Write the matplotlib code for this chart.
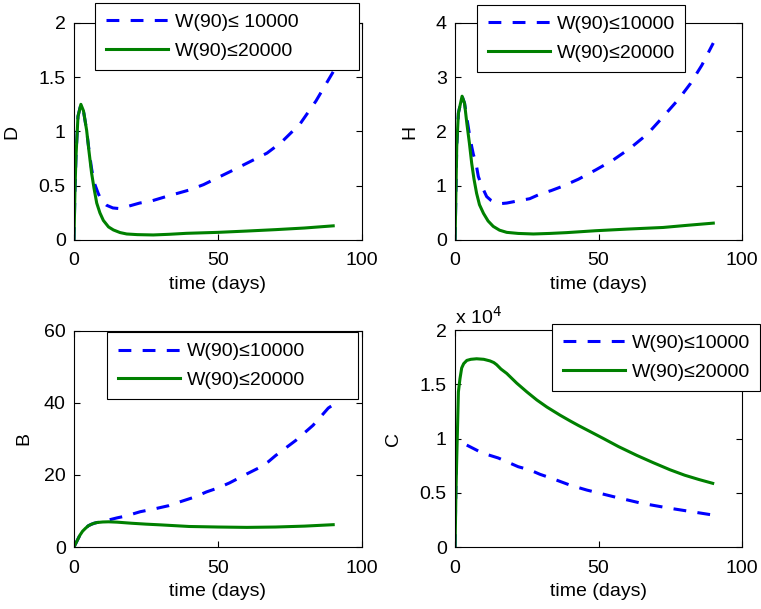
import matplotlib
matplotlib.use('Agg')
import matplotlib.pyplot as plt
from matplotlib.ticker import FuncFormatter

plt.rcParams['font.family'] = ['Liberation Sans', 'DejaVu Sans']
plt.rcParams['font.size'] = 14

# D panel
t_D_green = [0, 0.35, 0.7, 1.4, 2.4, 3.3, 4.4, 5.2, 6.1, 7.0, 7.9, 9.0, 10.2, 12.0,
             13.7, 16, 18.3, 22, 27.5, 33, 39, 50, 60, 70, 80, 90]
D_green = [0, 0.46, 0.77, 1.14, 1.25, 1.19, 1.01, 0.82, 0.62, 0.47, 0.34, 0.25, 0.18,
           0.12, 0.092, 0.068, 0.055, 0.049, 0.046, 0.052, 0.061, 0.07, 0.082, 0.095,
           0.11, 0.13]
t_D_blue = [0, 0.35, 0.7, 1.4, 2.4, 3.3, 4.4, 5.2, 6.1, 7.0, 8.4, 9.6, 11.3, 13.5, 15.4,
            18.8, 22.8, 27, 32, 36, 40, 45, 49.6, 55, 61, 67, 72, 78.5, 84, 90]
D_blue = [0, 0.46, 0.77, 1.14, 1.25, 1.19, 1.01, 0.83, 0.66, 0.53, 0.43, 0.36, 0.32,
          0.295, 0.29, 0.31, 0.34, 0.36, 0.40, 0.43, 0.46, 0.51, 0.57, 0.64, 0.72, 0.80,
          0.90, 1.07, 1.28, 1.55]

# H panel
t_H_green = [0, 0.58, 1.16, 2.44, 3.3, 4.1, 5.0, 5.8, 6.6, 7.5, 8.5, 9.9, 11.5, 13.3,
             15.5, 18, 22, 27.3, 33, 38.9, 49, 60, 72.5, 81, 90]
H_green = [0, 1.72, 2.34, 2.65, 2.52, 2.15, 1.78, 1.41, 1.12, 0.86, 0.65, 0.49, 0.35,
           0.25, 0.18, 0.14, 0.12, 0.11, 0.12, 0.135, 0.17, 0.20, 0.23, 0.27, 0.31]
t_H_blue = [0, 0.58, 1.16, 2.44, 3.3, 4.1, 5.0, 5.8, 6.4, 6.9, 7.5, 8.1, 9.5, 11, 12.5, 14,
            16, 18, 21.9, 26, 29.4, 33.5, 37.5, 43, 49, 55, 61, 67, 72.5, 78, 82, 86, 90]
H_blue = [0, 1.72, 2.34, 2.65, 2.52, 2.25, 1.95, 1.72, 1.57, 1.49, 1.35, 1.17, 0.97, 0.80,
          0.73, 0.69, 0.67, 0.68, 0.72, 0.76, 0.84, 0.91, 0.99, 1.12, 1.29, 1.47, 1.69,
          1.95, 2.27, 2.60, 2.88, 3.22, 3.63]

# B panel
t_B_green = [0, 1, 2, 3, 4, 5, 6, 7, 8, 10, 12, 15, 20, 25, 30, 40, 50, 60, 70, 80, 90]
B_green = [0, 1.6, 3.2, 4.4, 5.2, 5.9, 6.3, 6.6, 6.8, 6.95, 7.0, 6.9, 6.6, 6.35, 6.15,
           5.7, 5.55, 5.45, 5.55, 5.8, 6.2]
t_B_blue = [0, 1, 2, 3, 4, 5, 6, 7, 8, 10, 12, 15, 18, 23, 28, 33, 37, 42, 46, 50, 54, 60,
            64, 67.5, 70, 77, 80, 83, 86, 88.3, 90]
B_blue = [0, 1.6, 3.2, 4.4, 5.2, 5.9, 6.3, 6.6, 6.8, 7.0, 7.5, 8.1, 8.6, 9.8, 10.6, 11.5,
          12.6, 13.9, 15.3, 16.4, 17.8, 20.3, 21.9, 23.7, 25.4, 29.6, 31.7, 33.8, 36.5,
          38.6, 39.5]

# C panel
t_C_green = [0, 0.3, 0.58, 0.9, 1.16, 1.7, 2.3, 3, 4.1, 5.5, 7.5, 10, 12.2, 13.5, 14.5, 16,
             18, 21.5, 25, 28.5, 32, 36.6, 40.1, 43, 47, 51.7, 57, 63.3, 69, 74.9, 80, 85,
             89.8]
C_green = [0, 5000, 8200, 11500, 14300, 15500, 16500, 16900, 17200, 17300, 17350, 17300,
           17150, 17000, 16800, 16400, 16000, 15100, 14300, 13550, 12900, 12150, 11620,
           11200, 10650, 10000, 9250, 8450, 7780, 7120, 6620, 6220, 5870]
t_C_blue = [0, 0.5, 2.9, 8.1, 11, 15.1, 22, 26.1, 29.6, 33.7, 40, 45.9, 55.2, 65, 74.9, 89.8]
C_blue = [0, 10000, 9550, 8850, 8540, 8200, 7400, 7100, 6700, 6330, 5710, 5250, 4640, 4030,
          3570, 2950]

label_blue = ['W(90)\u2264 10000', 'W(90)\u226410000', 'W(90)\u226410000', 'W(90)\u226410000']
label_green = 'W(90)\u226420000'

BLUE = (0, 0, 1)
GREEN = (0, 0.5, 0)

fig = plt.figure(figsize=(7.61, 6.09), dpi=100)

panels = [
    # rect, t_blue, y_blue, t_green, y_green, ylabel, ylim, yticks, ylabel x, legend bbox
    ([0.0972, 0.606, 0.3785, 0.3563], t_D_blue, D_blue, t_D_green, D_green, 'D',
     (0, 2), [0, 0.5, 1, 1.5, 2], -0.1875, (0.073, 0.70, 0.917, 0.392)),
    ([0.598, 0.606, 0.377, 0.3563], t_H_blue, H_blue, t_H_green, H_green, 'H',
     (0, 4), [0, 1, 2, 3, 4], -0.129, (0.077, 0.70, 0.725, 0.383)),
    ([0.0972, 0.1018, 0.3785, 0.3547], t_B_blue, B_blue, t_B_green, B_green, 'B',
     (0, 60), [0, 20, 40, 60], -0.146, (0.115, 0.60, 0.872, 0.395)),
    ([0.598, 0.1018, 0.377, 0.3563], t_C_blue, [c / 1e4 for c in C_blue], t_C_green,
     [c / 1e4 for c in C_green], 'C', (0, 2), [0, 0.5, 1, 1.5, 2], -0.185,
     (0.338, 0.60, 0.725, 0.428)),
]

fmt = FuncFormatter(lambda v, p: f'{v:g}')

for i, (rect, tb, yb, tg, yg, ylab, ylim, yticks, ylx, lbox) in enumerate(panels):
    ax = fig.add_axes(rect)
    ax.plot(tb, yb, color=BLUE, lw=2.2, linestyle=(0, (4.2, 3.7)), label=label_blue[i])
    ax.plot(tg, yg, color=GREEN, lw=2.2, label=label_green)
    ax.set_xlim(0, 100)
    ax.set_ylim(*ylim)
    ax.set_xticks([0, 50, 100])
    ax.set_yticks(yticks)
    ax.xaxis.set_major_formatter(fmt)
    ax.yaxis.set_major_formatter(fmt)
    ax.tick_params(direction='in', top=True, right=True, length=4, width=0.8,
                   labelsize=14)
    ax.tick_params(axis='x', pad=9)
    ax.tick_params(axis='y', pad=6)
    for s in ax.spines.values():
        s.set_linewidth(0.8)
    ax.set_xlabel('time (days)', fontsize=14)
    ax.xaxis.set_label_coords(0.5, -0.165)
    ax.xaxis.label.set_va('top')
    ax.set_ylabel(ylab, fontsize=14)
    ax.yaxis.set_label_coords(ylx, 0.5)
    leg = ax.legend(loc='upper left', bbox_to_anchor=lbox, mode='expand',
                    borderaxespad=0, fancybox=False, edgecolor='black', framealpha=1,
                    handlelength=3.2, handletextpad=0.35, borderpad=0.55,
                    labelspacing=0.55, fontsize=14)
    leg.get_frame().set_linewidth(0.8)
    if ylab == 'C':
        ax.text(0.0, 1.03, 'x 10$^{4}$', transform=ax.transAxes, fontsize=14,
                va='baseline', ha='left')

fig.savefig('out.png', dpi=100)
